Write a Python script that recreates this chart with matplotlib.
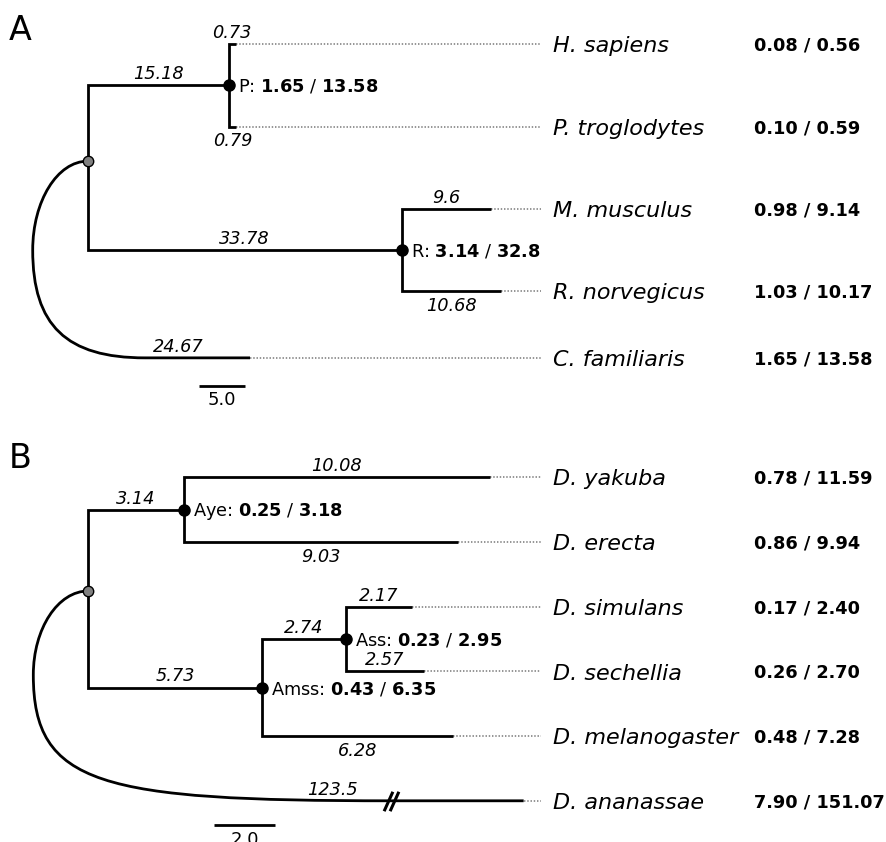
import matplotlib
matplotlib.use('Agg')
import matplotlib.pyplot as plt
from matplotlib.path import Path
from matplotlib.patches import PathPatch

# --- panel A: mammals -------------------------------------------------------
a_nodes = ['P', 'R', 'H. sapiens', 'P. troglodytes', 'M. musculus',
           'R. norvegicus', 'C. familiaris']
a_parents = ['root', 'root', 'P', 'P', 'R', 'R', 'root']
a_lengths = [15.18, 33.78, 0.73, 0.79, 9.6, 10.68, 24.67]
a_dn = [1.65, 3.14, 0.08, 0.10, 0.98, 1.03, 1.65]
a_ds = [13.58, 32.8, 0.56, 0.59, 9.14, 10.17, 13.58]
a_scale = 5.0

# --- panel B: drosophila ----------------------------------------------------
b_nodes = ['Aye', 'Amss', 'Ass', 'D. yakuba', 'D. erecta', 'D. simulans',
           'D. sechellia', 'D. melanogaster', 'D. ananassae']
b_parents = ['root', 'root', 'Amss', 'Aye', 'Aye', 'Ass', 'Ass', 'Amss', 'root']
b_lengths = [3.14, 5.73, 2.74, 10.08, 9.03, 2.17, 2.57, 6.28, 123.5]
b_dn = [0.25, 0.43, 0.23, 0.78, 0.86, 0.17, 0.26, 0.48, 7.90]
b_ds = [3.18, 6.35, 2.95, 11.59, 9.94, 2.40, 2.70, 7.28, 151.07]
b_scale = 2.0

# where each branch-length label goes
a_sides = ['above', 'above', 'above', 'below', 'above', 'below', 'above']
b_sides = ['above', 'above', 'above', 'above', 'below', 'above', 'above',
           'below', 'above']

FIG_W, FIG_H = 886, 842
LW = 2.0
SMALL = 12.8
BIG = 16

# layout of each panel (pixel frame + curved outgroup shape)
A_LAYOUT = dict(letter='A', top_px=0, bottom_px=420, root_px=87.7, unit_px=9.29,
                row0_px=44.3, row_px=82.3, out_row=3.81, root_frac=0.46,
                bulge=-5.92, mid_frac=0.452, join=6.17, k1=0.7, k2=0.7,
                tip=17.47, brk=None, out_label_x=9.72,
                scale_x=14.46, scale_y=4.148, letter_px=40)
B_LAYOUT = dict(letter='B', top_px=420, bottom_px=842, root_px=88.3, unit_px=30.38,
                row0_px=477.3, row_px=64.7, out_row=None, root_frac=0.457,
                bulge=-1.81, mid_frac=0.40, join=9.96, k1=0.875, k2=0.813,
                tip=14.33, brk=9.96, out_label_x=8.05,
                scale_x=5.14, scale_y=5.374, letter_px=468)

LEADER_END = 541 / FIG_W
NAME_X = 553 / FIG_W
VALUE_X = 754 / FIG_W


def make_axes(fig, lay):
    h = lay['bottom_px'] - lay['top_px']
    ax = fig.add_axes([0, 1 - lay['bottom_px'] / FIG_H, 1, h / FIG_H])
    ax.set_xlim(-lay['root_px'] / lay['unit_px'], (FIG_W - lay['root_px']) / lay['unit_px'])
    ax.set_ylim((lay['bottom_px'] - lay['row0_px']) / lay['row_px'],
                (lay['top_px'] - lay['row0_px']) / lay['row_px'])
    ax.axis('off')
    return ax


def draw_tree(fig, lay, nodes, parents, lengths, dn, ds, sides, scale_len):
    ax = make_axes(fig, lay)
    parent = dict(zip(nodes, parents))
    length = dict(zip(nodes, lengths))
    internal = [n for n in nodes if n in parents]
    leaves = [n for n in nodes if n not in internal]
    outgroup = [n for n in leaves if parent[n] == 'root'][0]

    x = {'root': 0.0}
    for n in nodes:
        x[n] = x[parent[n]] + length[n]

    y = {}
    for i, n in enumerate(leaves):
        y[n] = float(i)
    if lay['out_row'] is not None:
        y[outgroup] = lay['out_row']
    for n in reversed(internal):
        kids = [c for c in nodes if parent[c] == n]
        y[n] = sum(y[c] for c in kids) / len(kids)
    ingroup = [c for c in nodes if parent[c] == 'root' and c != outgroup]
    top, bot = min(y[c] for c in ingroup), max(y[c] for c in ingroup)
    y['root'] = top + lay['root_frac'] * (bot - top)

    x_lead = ax.get_xlim()[0] + LEADER_END * (ax.get_xlim()[1] - ax.get_xlim()[0])
    ytr = ax.get_yaxis_transform()

    # rectangular branches
    for n, side in zip(nodes, sides):
        p = parent[n]
        if n != outgroup:
            ax.plot([x[p], x[p], x[n]], [y[p], y[n], y[n]], color='black', lw=LW,
                    solid_joinstyle='miter', solid_capstyle='butt', zorder=2)
            lx = (x[p] + x[n]) / 2
        else:
            lx = lay['out_label_x']
        dy, va = (1.5, 'bottom') if side == 'above' else (-4.0, 'top')
        ax.annotate(f'{length[n]:g}', (lx, y[n]), xytext=(0, dy), textcoords='offset points',
                    ha='center', va=va, fontsize=SMALL, style='italic')

    # curved outgroup branch from the root
    x0, y0, yo = 0.0, y['root'], y[outgroup]
    xl, xj = lay['bulge'], lay['join']
    ym = y0 + lay['mid_frac'] * (yo - y0)
    c = 0.552
    verts = [(x0, y0), (x0 + c * (xl - x0), y0), (xl, ym - c * (ym - y0)), (xl, ym),
             (xl, ym + lay['k1'] * (yo - ym)), (xj - lay['k2'] * (xj - xl), yo), (xj, yo),
             (lay['tip'], yo)]
    codes = [Path.MOVETO] + [Path.CURVE4] * 6 + [Path.LINETO]
    ax.add_patch(PathPatch(Path(verts, codes), fill=False, lw=LW, color='black',
                           capstyle='butt', zorder=2))
    if lay['brk'] is not None:
        d = 0.1
        ax.plot([lay['brk'] - d, lay['brk'] + d], [yo, yo], ls='none',
                marker=[(-0.45, -1), (0.45, 1)], ms=14, mew=2.2, color='black', zorder=3)

    # leaders, leaf names, dN/dS values
    for n in leaves:
        tip = lay['tip'] if n == outgroup else x[n]
        ax.plot([tip, x_lead], [y[n], y[n]], color='#8c8c8c', lw=1.3,
                ls=(0, (0.8, 1.0)), zorder=1)
        ax.annotate(n, (NAME_X, y[n]), xycoords=ytr, xytext=(0, -0.365 * BIG),
                    textcoords='offset points', ha='left', va='baseline',
                    fontsize=BIG, style='italic')
        i = nodes.index(n)
        ax.annotate(f'{dn[i]:.2f} / {ds[i]:.2f}', (VALUE_X, y[n]), xycoords=ytr,
                    xytext=(0, -0.365 * SMALL), textcoords='offset points',
                    ha='left', va='baseline', fontsize=SMALL, fontweight='bold')

    # internal node dots and labels
    for n in internal:
        i = nodes.index(n)
        ax.plot(x[n], y[n], 'o', color='black', ms=8, zorder=4)
        ax.annotate(rf'{n}: $\mathbf{{{dn[i]:g}}}$ / $\mathbf{{{ds[i]:g}}}$', (x[n], y[n]),
                    xytext=(6.5, -0.365 * SMALL), textcoords='offset points',
                    ha='left', va='baseline', fontsize=SMALL)
    ax.plot(x['root'], y['root'], 'o', color='#808080', mec='black', mew=1.0, ms=7.5, zorder=4)

    # scale bar
    sx, sy = lay['scale_x'], lay['scale_y']
    ax.plot([sx - scale_len / 2, sx + scale_len / 2], [sy, sy], color='black', lw=LW,
            solid_capstyle='butt')
    ax.annotate(f'{scale_len:.1f}', (sx, sy), xytext=(0, -4), textcoords='offset points',
                ha='center', va='top', fontsize=13)

    fig.text(9 / FIG_W, 1 - lay['letter_px'] / FIG_H, lay['letter'], fontsize=24,
             ha='left', va='baseline')
    return ax


fig = plt.figure(figsize=(FIG_W / 100, FIG_H / 100), dpi=100, facecolor='white')
draw_tree(fig, A_LAYOUT, a_nodes, a_parents, a_lengths, a_dn, a_ds, a_sides, a_scale)
draw_tree(fig, B_LAYOUT, b_nodes, b_parents, b_lengths, b_dn, b_ds, b_sides, b_scale)
fig.savefig('out.png', dpi=100, facecolor='white')
